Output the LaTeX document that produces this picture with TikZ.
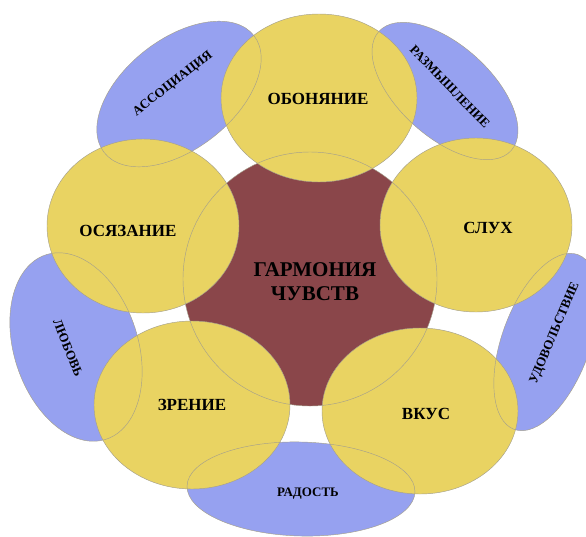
\documentclass[tikz,border=0pt]{standalone}
\usepackage{fontspec}
\setmainfont{Liberation Serif}
\definecolor{yel}{RGB}{233,211,98}
\definecolor{brn}{RGB}{138,70,74}
\definecolor{blu}{RGB}{150,161,240}
\definecolor{edgec}{RGB}{165,160,140}
\newcommand\myell[6]{\path[#1,shift={(#2,#3)},rotate=#4] (0,0) ellipse [x radius=#5,y radius=#6];}
\newcommand\allblue[1]{%
  \myell{#1}{179}{94}{38}{95}{55}%
  \myell{#1}{445}{91}{-42}{89}{46}%
  \myell{#1}{546}{342}{70}{93}{44}%
  \myell{#1}{76}{347}{-72}{97}{62}%
  \myell{#1}{301}{489}{-1.5}{114}{47}}
\newcommand\allyel[1]{%
  \myell{#1}{319}{98}{0}{98}{84}%
  \myell{#1}{143}{226}{0}{96}{87}%
  \myell{#1}{476}{225}{0}{96}{87}%
  \myell{#1}{192}{405}{0}{98}{84}%
  \myell{#1}{420}{411}{0}{98}{83}}
\begin{document}
\begin{tikzpicture}[x=1pt,y=-1pt,
  sense/.style={font=\bfseries\fontsize{17}{20}\selectfont, text=black, inner sep=0pt},
  mood/.style={font=\bfseries\fontsize{13}{15}\selectfont, text=black, inner sep=0pt},
  core/.style={font=\bfseries\fontsize{21}{24}\selectfont, text=black, align=center, inner sep=0pt},
  outline/.style={draw=edgec, line width=0.45pt}]
\useasboundingbox (0,0) rectangle (586,536);
\clip (0,0) rectangle (586,536);
% fills
\allblue{fill=blu}
\path[fill=brn] (310,279) circle [radius=127];
\allyel{fill=yel}
% outlines on top
\allblue{outline}
\path[outline] (310,279) circle [radius=127];
\allyel{outline}
% texts
\node[core] (harm) at (315,282) {ГАРМОНИЯ\\ЧУВСТВ};
\node[sense] (smell) at (318,99) {ОБОНЯНИЕ};
\node[sense] (touch) at (128,231) {ОСЯЗАНИЕ};
\node[sense] (hear) at (488,228) {СЛУХ};
\node[sense] (see) at (192,405) {ЗРЕНИЕ};
\node[sense] (taste) at (426,414) {ВКУС};
\node[mood, rotate=38] (assoc) at (173,84) {АССОЦИАЦИЯ};
\node[mood, rotate=-46] (think) at (450,87) {РАЗМЫШЛЕНИЕ};
\node[mood, rotate=67] (pleas) at (555,333) {УДОВОЛЬСТВИЕ};
\node[mood, rotate=-68] (love) at (68,348) {ЛЮБОВЬ};
\node[mood] (joy) at (308,494) {РАДОСТЬ};
\end{tikzpicture}
\end{document}
